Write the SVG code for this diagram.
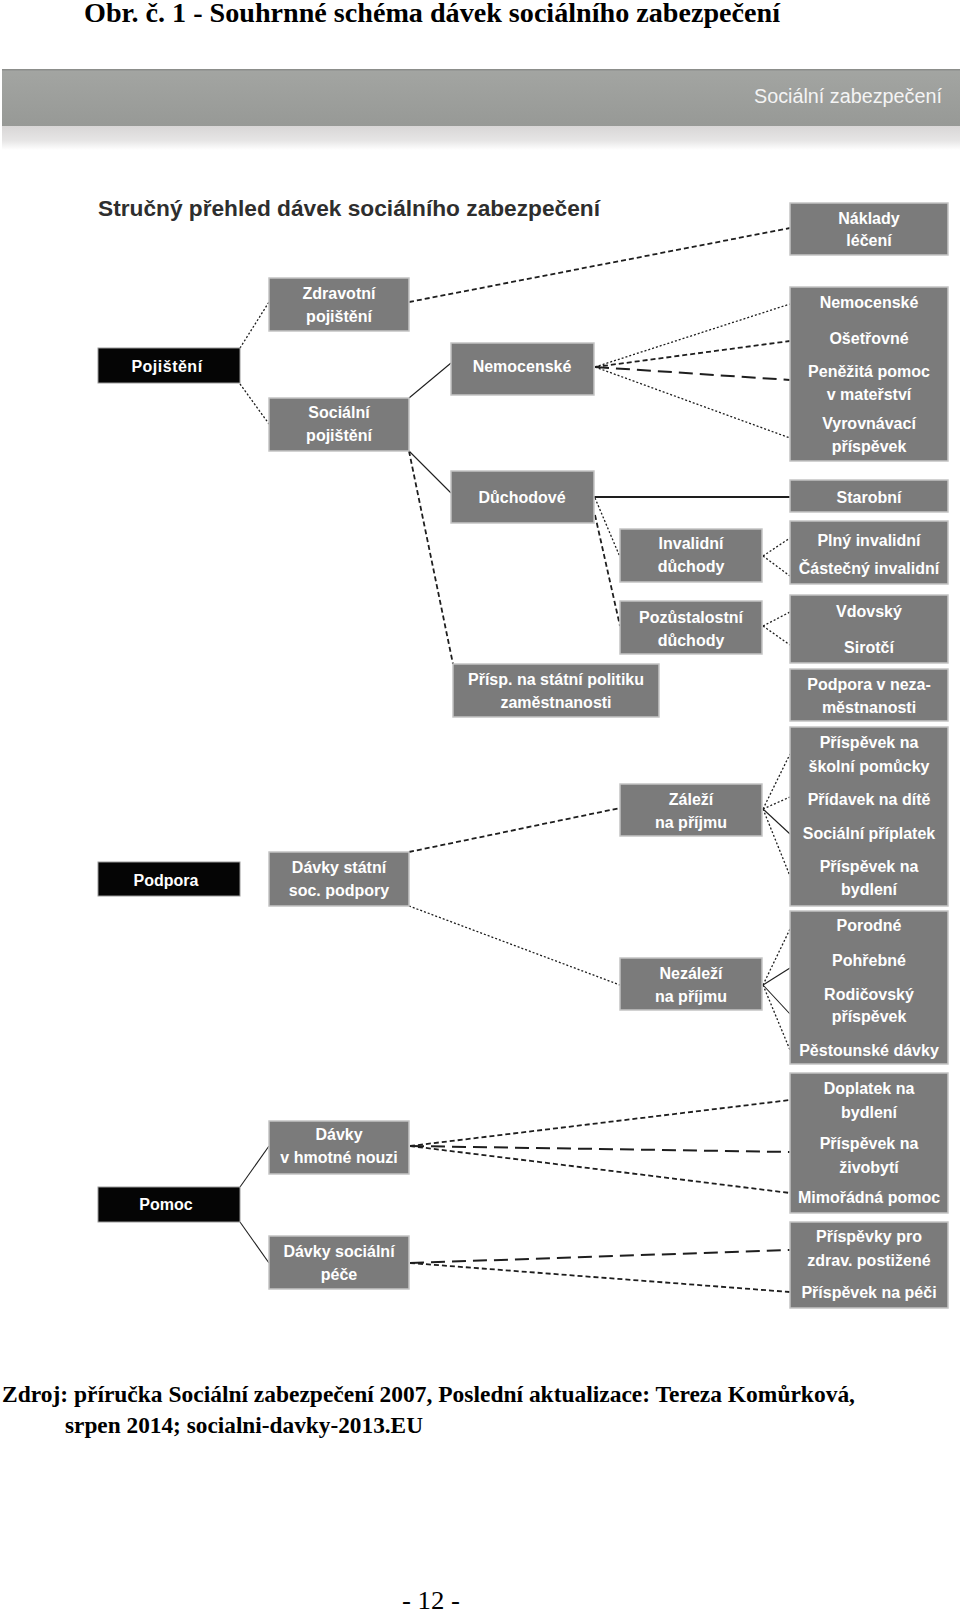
<svg xmlns="http://www.w3.org/2000/svg" width="960" height="1614" viewBox="0 0 960 1614">
<defs>
<linearGradient id="hdr" x1="0" y1="0" x2="0" y2="1">
<stop offset="0" stop-color="#a3a5a2"/><stop offset="1" stop-color="#979996"/>
</linearGradient>
<linearGradient id="fade" x1="0" y1="0" x2="0" y2="1">
<stop offset="0" stop-color="#d8d6d6"/><stop offset="0.6" stop-color="#e6e5e5"/><stop offset="1" stop-color="#ffffff"/>
</linearGradient>
</defs>
<style>
.doc{font-family:"Liberation Serif","Times New Roman",serif;font-weight:bold;fill:#000}
.box{fill:#7b7b7b;stroke:#c4c4c4;stroke-width:1.5}
.blk{fill:#050505;stroke:#9a9a9a;stroke-width:1}
.t{font-family:"Liberation Sans",Arial,sans-serif;font-weight:bold;font-size:16px;fill:#ffffff;text-anchor:middle}
.conn line{stroke:#1e1e1e;fill:none}
.dash{stroke-dasharray:5 3;stroke-width:1.8}
.dot{stroke-dasharray:2 2;stroke-width:1.3}
.solid{stroke-width:1.1}
.ldash{stroke-dasharray:14 7;stroke-width:2}
.thick{stroke-width:2}
</style>
<rect width="960" height="1614" fill="#ffffff"/>
<text class="doc" x="84" y="22" font-size="28" textLength="696" lengthAdjust="spacingAndGlyphs">Obr. č. 1 - Souhrnné schéma dávek sociálního zabezpečení</text>
<g id="header">
<rect x="2" y="70" width="958" height="56" fill="url(#hdr)"/>
<rect x="2" y="69" width="958" height="1.5" fill="#8c8e8b"/>
<rect x="2" y="126" width="958" height="24" fill="url(#fade)"/>
<text x="942" y="103" font-family="Liberation Sans,Arial,sans-serif" font-size="20" fill="#f4f4f4" text-anchor="end" textLength="188" lengthAdjust="spacingAndGlyphs">Sociální zabezpečení</text>
</g>
<text x="98" y="216" font-family="Liberation Sans,Arial,sans-serif" font-weight="bold" font-size="22" fill="#2e2e2e" textLength="502" lengthAdjust="spacingAndGlyphs">Stručný přehled dávek sociálního zabezpečení</text>

<g id="connectors" class="conn">
<line class="dot" x1="240" y1="348" x2="269" y2="302"/>
<line class="dot" x1="240" y1="384" x2="269" y2="424"/>
<line class="dash" x1="409" y1="302" x2="790" y2="228"/>
<line class="solid" x1="409" y1="398" x2="451" y2="363"/>
<line class="solid" x1="409" y1="451" x2="451" y2="493"/>
<line class="dash" x1="409" y1="451" x2="453" y2="664"/>
<line class="dot" x1="595" y1="367" x2="790" y2="304"/>
<line class="dash" x1="595" y1="367" x2="790" y2="341"/>
<line class="ldash" x1="595" y1="367" x2="790" y2="380"/>
<line class="dot" x1="595" y1="367" x2="790" y2="438"/>
<line class="thick" x1="594" y1="497" x2="790" y2="497"/>
<line class="dot" x1="595" y1="498" x2="620" y2="557"/>
<line class="dash" x1="595" y1="515" x2="620" y2="626"/>
<line class="dot" x1="763" y1="556" x2="790" y2="538"/>
<line class="dot" x1="763" y1="556" x2="790" y2="576"/>
<line class="dot" x1="763" y1="626" x2="790" y2="612"/>
<line class="dot" x1="763" y1="626" x2="790" y2="645"/>
<line class="dash" x1="409" y1="852" x2="620" y2="808"/>
<line class="dot" x1="409" y1="906" x2="620" y2="985"/>
<line class="dot" x1="763" y1="809" x2="790" y2="754"/>
<line class="dot" x1="763" y1="809" x2="790" y2="797"/>
<line class="solid" x1="763" y1="809" x2="790" y2="834"/>
<line class="dot" x1="763" y1="809" x2="790" y2="876"/>
<line class="dot" x1="763" y1="985" x2="790" y2="929"/>
<line class="solid" x1="763" y1="985" x2="790" y2="968"/>
<line class="solid" x1="763" y1="985" x2="790" y2="1014"/>
<line class="dot" x1="763" y1="985" x2="790" y2="1050"/>
<line class="solid" x1="240" y1="1187" x2="269" y2="1146"/>
<line class="solid" x1="240" y1="1222" x2="269" y2="1263"/>
<line class="dash" x1="410" y1="1146" x2="790" y2="1100"/>
<line class="ldash" x1="410" y1="1146" x2="790" y2="1152"/>
<line class="dash" x1="410" y1="1146" x2="790" y2="1193"/>
<line class="ldash" x1="410" y1="1263" x2="790" y2="1250"/>
<line class="dash" x1="410" y1="1263" x2="790" y2="1292"/>
</g>

<g id="n-pojisteni"><rect class="blk" x="98" y="348" width="142" height="35"/><text class="t" x="167" y="372" letter-spacing="0.5">Pojištění</text></g>
<g id="n-podpora"><rect class="blk" x="98" y="862" width="142" height="34"/><text class="t" x="166" y="886">Podpora</text></g>
<g id="n-pomoc"><rect class="blk" x="98" y="1187" width="142" height="35"/><text class="t" x="166" y="1210">Pomoc</text></g>

<g id="n-zdravotni"><rect class="box" x="269" y="278" width="140" height="53"/><text class="t" x="339" y="299">Zdravotní</text><text class="t" x="339" y="322">pojištění</text></g>
<g id="n-socialni"><rect class="box" x="269" y="398" width="140" height="53"/><text class="t" x="339" y="418">Sociální</text><text class="t" x="339" y="441">pojištění</text></g>
<g id="n-statni"><rect class="box" x="269" y="852" width="140" height="54"/><text class="t" x="339" y="873">Dávky státní</text><text class="t" x="339" y="896">soc. podpory</text></g>
<g id="n-hmotna"><rect class="box" x="269" y="1121" width="140" height="53"/><text class="t" x="339" y="1140">Dávky</text><text class="t" x="339" y="1163">v hmotné nouzi</text></g>
<g id="n-pece"><rect class="box" x="269" y="1236" width="140" height="53"/><text class="t" x="339" y="1257">Dávky sociální</text><text class="t" x="339" y="1280">péče</text></g>

<g id="n-nemocenske"><rect class="box" x="451" y="343" width="143" height="52"/><text class="t" x="522" y="372">Nemocenské</text></g>
<g id="n-duchodove"><rect class="box" x="451" y="471" width="143" height="52"/><text class="t" x="522" y="503">Důchodové</text></g>
<g id="n-zamestnanost"><rect class="box" x="453" y="664" width="206" height="53"/><text class="t" x="556" y="685">Přísp. na státní politiku</text><text class="t" x="556" y="708">zaměstnanosti</text></g>

<g id="n-invalidni"><rect class="box" x="620" y="529" width="142" height="53"/><text class="t" x="691" y="549">Invalidní</text><text class="t" x="691" y="572">důchody</text></g>
<g id="n-pozustalostni"><rect class="box" x="620" y="601" width="142" height="53"/><text class="t" x="691" y="623">Pozůstalostní</text><text class="t" x="691" y="646">důchody</text></g>
<g id="n-zalezi"><rect class="box" x="620" y="784" width="142" height="52"/><text class="t" x="691" y="805">Záleží</text><text class="t" x="691" y="828">na příjmu</text></g>
<g id="n-nezalezi"><rect class="box" x="620" y="958" width="142" height="52"/><text class="t" x="691" y="979">Nezáleží</text><text class="t" x="691" y="1002">na příjmu</text></g>

<g id="n-naklady"><rect class="box" x="790" y="203" width="158" height="52"/><text class="t" x="869" y="224">Náklady</text><text class="t" x="869" y="246">léčení</text></g>
<g id="n-nemoc-davky"><rect class="box" x="790" y="287" width="158" height="174"/><text class="t" x="869" y="308">Nemocenské</text><text class="t" x="869" y="344">Ošetřovné</text><text class="t" x="869" y="377">Peněžitá pomoc</text><text class="t" x="869" y="400">v mateřství</text><text class="t" x="869" y="429">Vyrovnávací</text><text class="t" x="869" y="452">příspěvek</text></g>
<g id="n-starobni"><rect class="box" x="790" y="480" width="158" height="32"/><text class="t" x="869" y="503">Starobní</text></g>
<g id="n-inv-davky"><rect class="box" x="790" y="521" width="158" height="63"/><text class="t" x="869" y="546">Plný invalidní</text><text class="t" x="869" y="574">Částečný invalidní</text></g>
<g id="n-poz-davky"><rect class="box" x="790" y="595" width="158" height="68"/><text class="t" x="869" y="617">Vdovský</text><text class="t" x="869" y="653">Sirotčí</text></g>
<g id="n-podpora-nez"><rect class="box" x="790" y="669" width="158" height="52"/><text class="t" x="869" y="690">Podpora v neza-</text><text class="t" x="869" y="713">městnanosti</text></g>
<g id="n-zalezi-davky"><rect class="box" x="790" y="727" width="158" height="179"/><text class="t" x="869" y="748">Příspěvek na</text><text class="t" x="869" y="772">školní pomůcky</text><text class="t" x="869" y="805">Přídavek na dítě</text><text class="t" x="869" y="839">Sociální příplatek</text><text class="t" x="869" y="872">Příspěvek na</text><text class="t" x="869" y="895">bydlení</text></g>
<g id="n-nezalezi-davky"><rect class="box" x="790" y="911" width="158" height="153"/><text class="t" x="869" y="931">Porodné</text><text class="t" x="869" y="966">Pohřebné</text><text class="t" x="869" y="1000">Rodičovský</text><text class="t" x="869" y="1022">příspěvek</text><text class="t" x="869" y="1056">Pěstounské dávky</text></g>
<g id="n-hmotna-davky"><rect class="box" x="790" y="1073" width="158" height="140"/><text class="t" x="869" y="1094">Doplatek na</text><text class="t" x="869" y="1118">bydlení</text><text class="t" x="869" y="1149">Příspěvek na</text><text class="t" x="869" y="1173">živobytí</text><text class="t" x="869" y="1203">Mimořádná pomoc</text></g>
<g id="n-pece-davky"><rect class="box" x="790" y="1222" width="158" height="86"/><text class="t" x="869" y="1242">Příspěvky pro</text><text class="t" x="869" y="1266">zdrav. postižené</text><text class="t" x="869" y="1298">Příspěvek na péči</text></g>

<text class="doc" x="2" y="1402" font-size="23" textLength="853" lengthAdjust="spacingAndGlyphs">Zdroj: příručka Sociální zabezpečení 2007, Poslední aktualizace: Tereza Komůrková,</text>
<text class="doc" x="65" y="1433" font-size="23" textLength="358" lengthAdjust="spacingAndGlyphs">srpen 2014; socialni-davky-2013.EU</text>
<text x="431" y="1609" font-family="Liberation Serif,Times New Roman,serif" font-size="26" text-anchor="middle" textLength="58" lengthAdjust="spacingAndGlyphs">- 12 -</text>
</svg>
